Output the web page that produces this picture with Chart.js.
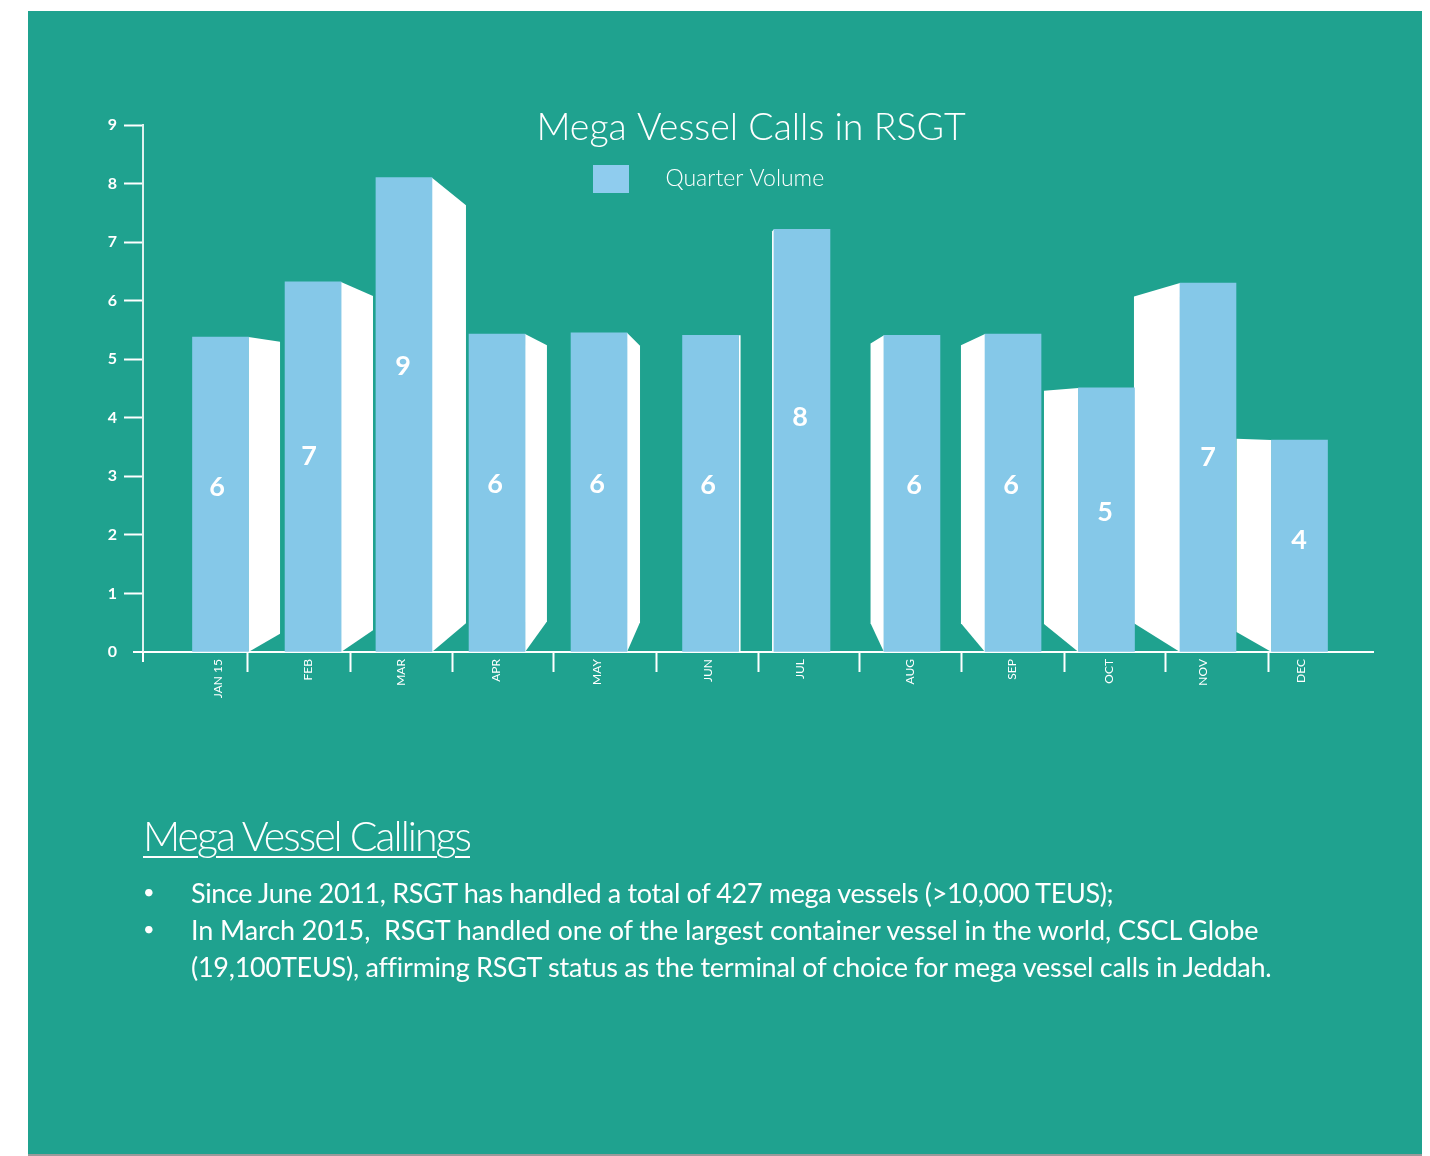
<!DOCTYPE html>
<html>
<head>
<meta charset="utf-8">
<title>Mega Vessel Calls in RSGT</title>
<script src="https://cdn.jsdelivr.net/npm/chart.js@4"></script>
<style>
    body { margin: 0; background: #fff; width: 1430px; height: 1156px; overflow: hidden; font-family: Lato, sans-serif; color: #fff; }
    #panel { position: absolute; left: 28px; top: 11px; width: 1394px; height: 1143px; background: #1fa28f; border-bottom: 2px solid #9a9a9a; }
    #myChart { position: absolute; left: 0; top: 0; }
    .txt { position: absolute; white-space: nowrap; font-weight: 300; }
    #heading { left: 143px; top: 811px; font-size: 41px; line-height: 50px; letter-spacing: -1.95px; text-decoration: underline; text-decoration-thickness: 2px; text-underline-offset: 5px; }
    .line { font-size: 27px; line-height: 37px; font-weight: 400; }
    .dot { font-size: 20px; }
</style>
</head>
<body>
<div id="panel"></div>
<canvas id="myChart" width="1430" height="1156"></canvas>
<div class="txt" id="heading">Mega Vessel Callings</div>
<div class="txt line dot" style="left:143px;top:873px">•</div>
<div class="txt line" style="left:191px;top:874px;letter-spacing:-0.35px">Since June 2011, RSGT has handled a total of 427 mega vessels (&gt;10,000 TEUS);</div>
<div class="txt line dot" style="left:143px;top:910px">•</div>
<div class="txt line" style="left:191px;top:911px;letter-spacing:-0.08px">In March 2015,&nbsp; RSGT handled one of the largest container vessel in the world, CSCL Globe</div>
<div class="txt line" style="left:191px;top:948px;letter-spacing:-0.25px">(19,100TEUS), affirming RSGT status as the terminal of choice for mega vessel calls in Jeddah.</div>

<script>
// chart values, x in category units, y in axis units
var months = ["JAN 15", "FEB", "MAR", "APR", "MAY", "JUN", "JUL", "AUG", "SEP", "OCT", "NOV", "DEC"];
var monthTicks = [0.732, 1.61, 2.517, 3.444, 4.429, 5.512, 6.41, 7.483, 8.478, 9.424, 10.341, 11.298];
var dividers = [1.024, 2.029, 3.024, 4.0, 5.005, 6.0, 6.995, 7.99, 8.995, 9.98, 10.98];
var barCentres = [0.756, 1.659, 2.546, 3.454, 4.449, 5.537, 6.429, 7.502, 8.488, 9.4, 10.39, 11.283];
var volumes = [5.38, 6.32, 8.10, 5.43, 5.45, 5.41, 7.22, 5.41, 5.43, 4.51, 6.30, 3.62];
// printed numbers on the bars and where they sit
var barNumbers = [6, 7, 9, 6, 6, 6, 8, 6, 6, 5, 7, 4];
var numberX = [0.722, 1.62, 2.537, 3.434, 4.429, 5.512, 6.41, 7.522, 8.468, 9.385, 10.39, 11.278];
var numberY = [2.82, 3.35, 4.88, 2.87, 2.87, 2.85, 4.0, 2.85, 2.85, 2.39, 3.33, 1.91];
// outer edge of the white side face of each bar
var sideX = [1.337, 2.244, 3.151, 3.941, 4.849, 5.83, 6.137, 7.098, 7.98, 8.79, 9.668, 10.668];
var sideTop = [5.30, 6.08, 7.63, 5.24, 5.23, 5.41, 7.18, 5.27, 5.24, 4.46, 6.07, 3.64];
var sideBottom = [0.31, 0.37, 0.49, 0.52, 0.51, 0, 0, 0.49, 0.49, 0.48, 0.49, 0.34];
var yTicks = [0, 1, 2, 3, 4, 5, 6, 7, 8, 9];

var white = "#ffffff";
var barBlue = "#85c8e8";

// white side faces, numbers on the bars and the little axis overhang
var sidesPlugin = {
    id: "sides",
    afterLayout: function (chart) {
        // title and legend sit inside the plot area in the original
        chart.titleBlock.top = 105;
        chart.titleBlock.bottom = 151;
        chart.titleBlock.left = 129;
        chart.titleBlock.right = 1373;
        chart.legend.left = 553;
        chart.legend.top = 125;
    },
    beforeDatasetsDraw: function (chart) {
        var ctx = chart.ctx;
        var xs = chart.scales.x;
        var ys = chart.scales.y;
        var bars = chart.getDatasetMeta(0).data;
        ctx.save();
        ctx.fillStyle = white;
        bars.forEach(function (bar, i) {
            var outer = xs.getPixelForValue(sideX[i]);
            var half = bar.width / 2;
            var edge = outer > bar.x ? bar.x + half : bar.x - half;
            ctx.beginPath();
            ctx.moveTo(edge, bar.y);
            ctx.lineTo(outer, ys.getPixelForValue(sideTop[i]));
            ctx.lineTo(outer, ys.getPixelForValue(sideBottom[i]));
            ctx.lineTo(edge, ys.getPixelForValue(0));
            ctx.closePath();
            ctx.fill();
        });
        ctx.restore();
    },
    afterDatasetsDraw: function (chart) {
        var ctx = chart.ctx;
        var xs = chart.scales.x;
        var ys = chart.scales.y;
        ctx.save();
        ctx.fillStyle = white;
        ctx.font = "700 27px Lato";
        ctx.textAlign = "center";
        ctx.textBaseline = "middle";
        barNumbers.forEach(function (n, i) {
            ctx.fillText(n, xs.getPixelForValue(numberX[i]), ys.getPixelForValue(numberY[i]));
        });
        var x0 = xs.getPixelForValue(0);
        var y0 = ys.getPixelForValue(0);
        ctx.strokeStyle = white;
        ctx.lineWidth = 2;
        ctx.beginPath();
        ctx.moveTo(x0 - 10, y0);
        ctx.lineTo(x0, y0);
        ctx.moveTo(x0, y0);
        ctx.lineTo(x0, y0 + 10);
        ctx.stroke();
        ctx.restore();
    }
};

var chart = new Chart(document.getElementById("myChart"), {
    type: "bar",
    data: {
        datasets: [{
            label: "Quarter Volume",
            data: barCentres.map(function (c, i) { return { x: c, y: volumes[i] }; }),
            backgroundColor: barBlue,
            borderWidth: 0,
            barThickness: 56
        }]
    },
    plugins: [sidesPlugin],
    options: {
        responsive: false,
        animation: false,
        layout: { padding: { left: 93, right: 57, top: 80, bottom: 444 } },
        plugins: {
            tooltip: { enabled: false },
            title: {
                display: true,
                text: "Mega Vessel Calls in RSGT",
                color: white,
                font: { family: "Lato", size: 37.5, weight: "300" },
                padding: 0,
                position: "top"
            },
            legend: {
                position: "chartArea",
                align: "start",
                labels: {
                    color: white,
                    boxWidth: 36,
                    boxHeight: 28,
                    padding: 40,
                    font: { family: "Lato", size: 23, weight: "300" },
                    generateLabels: function (chart) {
                        return [{ text: "    " + chart.data.datasets[0].label, fillStyle: "#8fccee", fontColor: white, lineWidth: 0, strokeStyle: "transparent", datasetIndex: 0 }];
                    }
                }
            }
        },
        scales: {
            x: {
                type: "linear",
                offset: false,
                min: 0,
                max: 12,
                afterBuildTicks: function (scale) {
                    scale.ticks = dividers.concat(monthTicks).sort(function (a, b) { return a - b; }).map(function (v) { return { value: v }; });
                },
                afterFit: function (scale) {
                    scale.height = 60;
                    scale.paddingLeft = 0;
                    scale.paddingRight = 0;
                },
                border: { color: white, width: 2 },
                grid: {
                    offset: false,
                    drawOnChartArea: false,
                    tickLength: 20,
                    tickWidth: 2,
                    tickColor: function (c) {
                        return c.tick && dividers.indexOf(c.tick.value) >= 0 ? white : "transparent";
                    }
                },
                ticks: {
                    autoSkip: false,
                    minRotation: 90,
                    maxRotation: 90,
                    padding: -13,
                    color: white,
                    font: { family: "Lato", size: 12 },
                    callback: function (value) {
                        var i = monthTicks.indexOf(value);
                        return i >= 0 ? months[i] : "";
                    }
                }
            },
            y: {
                min: 0,
                max: 9,
                afterBuildTicks: function (scale) {
                    scale.ticks = yTicks.map(function (v) { return { value: v }; });
                },
                afterFit: function (scale) {
                    scale.width = 50;
                    scale.paddingTop = 0;
                    scale.paddingBottom = 0;
                },
                border: { color: "#dff1ee", width: 2 },
                grid: {
                    drawOnChartArea: false,
                    tickLength: 19,
                    tickWidth: 2,
                    tickColor: function (c) {
                        return c.tick && c.tick.value !== 0 ? white : "transparent";
                    }
                },
                ticks: {
                    padding: 7,
                    color: white,
                    font: { family: "Lato", size: 16, weight: "700" }
                }
            }
        }
    }
});
</script>
</body>
</html>
